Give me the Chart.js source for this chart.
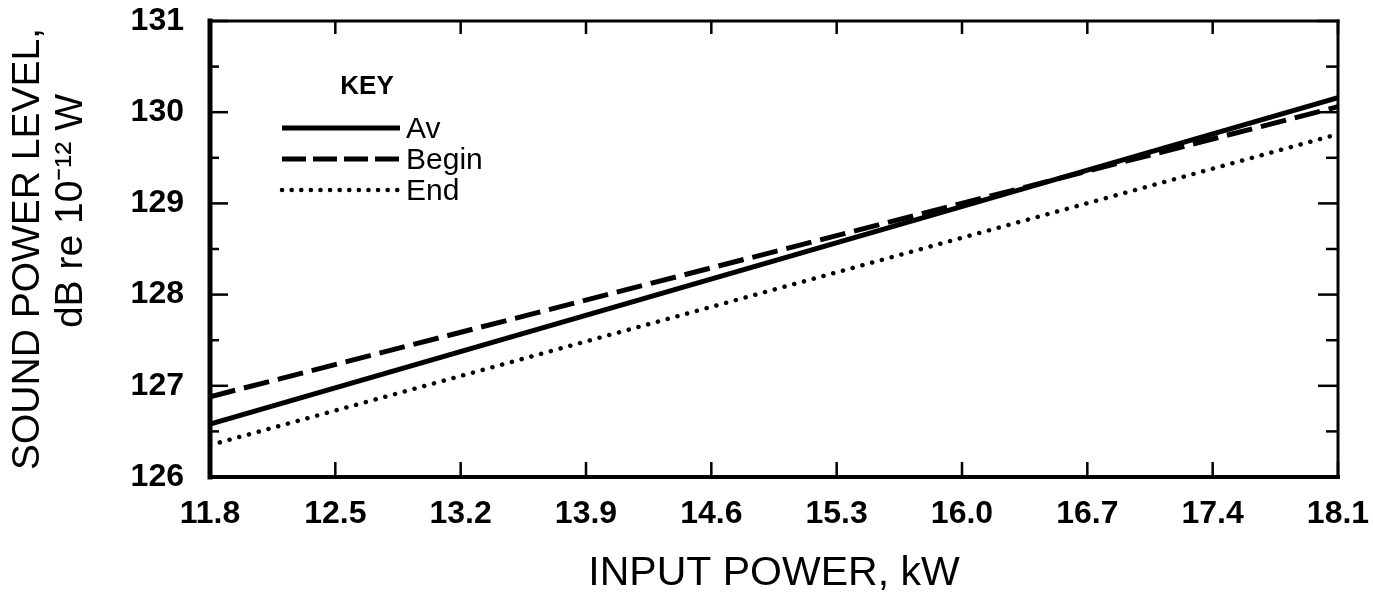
<!DOCTYPE html>
<html>
<head>
<meta charset="utf-8">
<script src="https://cdn.jsdelivr.net/npm/chart.js@4"></script>
<style>
  html, body { margin: 0; padding: 0; background: #fff; }
  #wrap { width: 1373px; height: 594px; }
</style>
</head>
<body>
<div id="wrap"><canvas id="chart" width="1373" height="594"></canvas></div>
<script>
// === data ===
const inputPower = [11.8, 18.1];
const avLevel = [126.58, 130.16];
const beginLevel = [126.88, 130.06];
const endLevel = [126.35, 129.76];

const xTicks = [11.8, 12.5, 13.2, 13.9, 14.6, 15.3, 16.0, 16.7, 17.4, 18.1];
const yTicks = [126, 127, 128, 129, 130, 131];
const yMinorTicks = [126.5, 127.5, 128.5, 129.5, 130.5];

const FONT = "'Liberation Sans', Arial, sans-serif";

function toPoints(xs, ys) {
  return xs.map((x, i) => ({ x: x, y: ys[i] }));
}

function line(ctx, x1, y1, x2, y2, w) {
  ctx.lineWidth = w;
  ctx.beginPath();
  ctx.moveTo(x1, y1);
  ctx.lineTo(x2, y2);
  ctx.stroke();
}

// frame + inward tick marks, like the printed figure
const framePlugin = {
  id: 'frame',
  afterDraw(chart) {
    const { ctx, chartArea: a, scales } = chart;
    ctx.save();
    ctx.strokeStyle = '#000';
    ctx.lineCap = 'square';
    line(ctx, a.left, a.top, a.left, a.bottom, 5);
    line(ctx, a.left, a.bottom, a.right, a.bottom, 4);
    line(ctx, a.left, a.top, a.right, a.top, 3);
    line(ctx, a.right, a.top, a.right, a.bottom, 3);

    ctx.lineCap = 'butt';
    xTicks.forEach(v => {
      const px = scales.x.getPixelForValue(v);
      line(ctx, px, a.top, px, a.top + 13, 2.5);
      line(ctx, px, a.bottom, px, a.bottom - 15, 2.5);
    });
    yTicks.forEach(v => {
      const py = scales.y.getPixelForValue(v);
      line(ctx, a.left, py, a.left + 18, py, 2.5);
      line(ctx, a.right, py, a.right - 20, py, 2.5);
    });
    yMinorTicks.forEach(v => {
      const py = scales.y.getPixelForValue(v);
      line(ctx, a.left, py, a.left + 9, py, 2.5);
      line(ctx, a.right, py, a.right - 12, py, 2.5);
    });
    ctx.restore();
  }
};

// the "KEY" box inside the plot
const keyPlugin = {
  id: 'key',
  afterDraw(chart) {
    const { ctx, chartArea: a } = chart;
    ctx.save();
    ctx.fillStyle = '#000';
    ctx.font = 'bold 26px ' + FONT;
    ctx.textAlign = 'center';
    ctx.textBaseline = 'middle';
    ctx.fillText('KEY', a.left + 157, 87);

    ctx.textAlign = 'left';
    ctx.font = '30px ' + FONT;
    chart.data.datasets.forEach((ds, i) => {
      const y = 128 + i * 31;
      ctx.strokeStyle = '#000';
      ctx.lineWidth = ds.borderWidth;
      ctx.lineCap = ds.borderCapStyle || 'butt';
      ctx.setLineDash(ds.legendDash || ds.borderDash || []);
      ctx.beginPath();
      ctx.moveTo(a.left + 72, y);
      ctx.lineTo(a.left + 190, y);
      ctx.stroke();
      ctx.fillText(ds.label, a.left + 196, y + 2);
    });
    ctx.restore();
  }
};

new Chart(document.getElementById('chart').getContext('2d'), {
  type: 'line',
  data: {
    datasets: [
      { label: 'Av', data: toPoints(inputPower, avLevel), borderColor: '#000', borderWidth: 5, pointRadius: 0 },
      { label: 'Begin', data: toPoints(inputPower, beginLevel), borderColor: '#000', borderWidth: 5, borderDash: [26, 9], legendDash: [24, 7], pointRadius: 0 },
      { label: 'End', data: toPoints(inputPower, endLevel), borderColor: '#000', borderWidth: 4.5, borderDash: [0.1, 10], legendDash: [0.1, 9.5], borderCapStyle: 'round', pointRadius: 0 }
    ]
  },
  options: {
    responsive: false,
    animation: false,
    layout: { padding: { top: 21, right: 35, left: 0, bottom: 0 } },
    plugins: { legend: { display: false }, tooltip: { enabled: false } },
    scales: {
      x: {
        type: 'linear',
        min: 11.8,
        max: 18.1,
        afterBuildTicks: s => { s.ticks = xTicks.map(v => ({ value: v })); },
        afterFit: s => { s.height = 117; s.paddingLeft = 0; s.paddingRight = 0; },
        grid: { display: false },
        border: { display: false },
        ticks: {
          color: '#000',
          padding: 10,
          font: { family: FONT, size: 32, weight: 'bold' },
          callback: v => Number(v).toFixed(1)
        },
        title: {
          display: true,
          text: 'INPUT POWER, kW',
          color: '#000',
          font: { family: FONT, size: 41, lineHeight: 1 },
          padding: { top: 20, bottom: 0 }
        }
      },
      y: {
        min: 126,
        max: 131,
        afterBuildTicks: s => { s.ticks = yTicks.map(v => ({ value: v })); },
        afterFit: s => { s.width = 210; s.paddingTop = 0; s.paddingBottom = 0; },
        grid: { display: false },
        border: { display: false },
        ticks: {
          color: '#000',
          padding: 18,
          font: { family: FONT, size: 32, weight: 'bold' },
          callback: v => String(v)
        },
        title: {
          display: true,
          text: ['SOUND POWER LEVEL,', '       dB re 10\u207B\u00B9\u00B2 W'],
          color: '#000',
          font: { family: FONT, size: 39, lineHeight: 1.12 },
          padding: { top: 6, bottom: 0 }
        }
      }
    }
  },
  plugins: [framePlugin, keyPlugin]
});
</script>
</body>
</html>
